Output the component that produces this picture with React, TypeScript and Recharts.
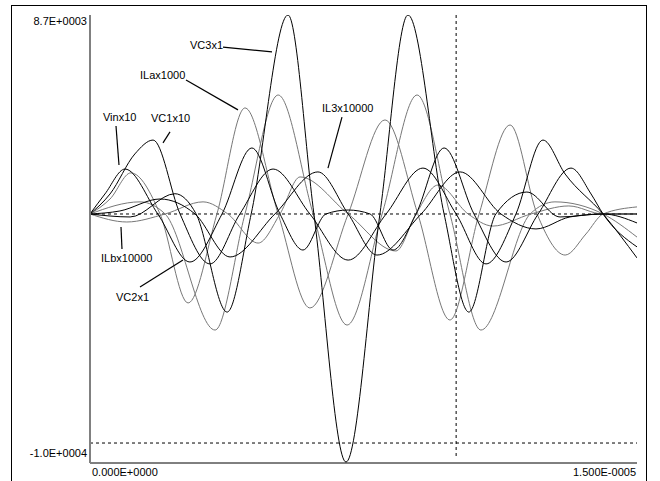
import React from 'react';
import { LineChart, Line, XAxis, YAxis, ReferenceLine, ReferenceDot } from 'recharts';

// time in microseconds (axis spans 0 .. 1.5E-5 s)
const vc3T = [0, 1.10, 2.33, 2.91, 3.76, 4.42, 5.43, 6.14, 7.02, 7.95, 8.72, 9.71, 10.39, 11.13, 11.98, 12.89, 14.07, 15];
const vc3V = [394, 270, 1240, 394, -3700, 394, 8700, 394, -9960, 394, 8700, 394, -3700, 394, 1310, 270, 394, 20];

const vc2T = [0, 1.37, 2.06, 3.43, 4.25, 5.16, 6.12, 7.05, 8.01, 8.97, 9.87, 10.72, 12.07, 12.75, 14.07, 15];
const vc2V = [394, 900, 394, -4450, 394, 5360, 394, -4240, 394, 5360, 394, -4450, 394, 900, 394, -570];

const vc1T = [0, 0.55, 1.23, 1.73, 2.47, 3.29, 4.11, 5.02, 6.03, 7.08, 8.12, 9.13, 10.04, 10.86, 11.68, 12.42, 13.03, 14.07, 15];
const vc1V = [394, 1230, 2900, 3480, 394, -1690, 394, 2270, 394, -1530, 394, 2310, 394, -1690, 394, 3480, 2060, 394, -1440];

const vinT = [0, 0.41, 0.96, 1.86, 2.74, 3.62, 4.44, 5.21, 5.84, 6.47, 7.08, 7.68, 8.31, 8.94, 9.71, 10.53, 11.41, 12.29, 13.19, 13.74, 14.07, 15];
const vinV = [394, 1230, 2270, 394, -1610, 394, 3150, 394, -1110, 394, 560, 394, -1110, 394, 3150, 394, -1610, 394, 2310, 1230, 394, -980];

const ilaT = [0, 0.55, 1.12, 1.92, 2.69, 3.48, 4.25, 5.16, 6.03, 7.08, 8.09, 8.99, 9.87, 10.67, 11.52, 12.26, 13.03, 13.60, 14.07, 15];
const ilaV = [394, 1020, 2110, 394, -3320, 394, 4820, 394, -3530, 394, 4320, 394, -4030, 394, 4110, 394, -1320, -440, 394, 690];

const ilbT = [0, 1.01, 2.06, 3.10, 3.78, 4.61, 5.21, 5.76, 7.08, 8.39, 8.94, 9.54, 10.37, 11.05, 12.09, 13.13, 14.07, 15];
const ilbV = [394, 60, 394, 900, 394, -820, 394, 1940, 394, -1150, 394, 1600, 394, -110, 394, 730, 394, 394];

const il3T = [0, 0.82, 1.92, 2.88, 3.84, 5.07, 6.25, 7.08, 7.87, 9.08, 10.15, 11.27, 12.23, 13.16, 14.07, 15];
const il3V = [394, 520, 1020, 394, -1400, 394, 2150, 394, -1320, 394, 2150, 394, -230, 270, 394, 394];

// axis
const xTicks = [0, 15];
const xTickLabels = ['0.000E+0000', '1.500E-0005'];
const yTicks = [-10000, 8700];
const yTickLabels = ['-1.0E+0004', '8.7E+0003'];

// cursors
const zeroLevel = 394;
const lowCursor = -9166;
const timeCursor = 10.04;

// annotations: text position and leader line (data units)
const labelNames = ['VC3x1', 'ILax1000', 'Vinx10', 'VC1x10', 'IL3x10000', 'ILbx10000', 'VC2x1'];
const labelT = [2.742, 1.371, 0.356, 1.673, 6.362, 0.302, 0.713];
const labelV = [7280, 6030, 4280, 4230, 4650, -1610, -3240];
const leaderT1 = [3.647, 2.633, 0.713, 2.194, 6.910, 0.850, 1.371];
const leaderV1 = [7360, 5990, 4070, 3820, 4440, -150, -2650];
const leaderT2 = [4.991, 4.058, 0.795, 2.002, 6.526, 0.877, 2.550];
const leaderV2 = [7160, 4740, 2440, 3360, 2310, -1070, -1530];

const zip = (ts: number[], vs: number[]) => ts.map((t, i) => ({ t, v: vs[i] }));

const GRAY = '#777777';
const FONT = '"Liberation Sans", Arial, sans-serif';

const series = [
  { name: 'VC2x1', data: zip(vc2T, vc2V), color: GRAY },
  { name: 'ILax1000', data: zip(ilaT, ilaV), color: GRAY },
  { name: 'ILbx10000', data: zip(ilbT, ilbV), color: GRAY },
  { name: 'Vinx10', data: zip(vinT, vinV), color: '#000000' },
  { name: 'VC1x10', data: zip(vc1T, vc1V), color: '#000000' },
  { name: 'IL3x10000', data: zip(il3T, il3V), color: '#000000' },
  { name: 'VC3x1', data: zip(vc3T, vc3V), color: '#000000' },
];

const YTick = (props: any) => {
  const { x, y, payload } = props;
  const idx = yTicks.indexOf(payload.value);
  const top = payload.value > 0;
  return (
    <text x={x - 3} y={top ? y + 10 : y - 6} textAnchor="end" fontSize={11} fontFamily={FONT} fill="#000">
      {yTickLabels[idx]}
    </text>
  );
};

const XTick = (props: any) => {
  const { x, y, payload } = props;
  const idx = xTicks.indexOf(payload.value);
  const first = idx === 0;
  return (
    <text x={first ? x + 2 : x - 1} y={y + 13} textAnchor={first ? 'start' : 'end'} fontSize={11} fontFamily={FONT} fill="#000">
      {xTickLabels[idx]}
    </text>
  );
};

export default function App() {
  return (
    <div style={{ position: 'absolute', left: 0, top: 0, width: 660, height: 481, overflow: 'hidden', background: '#fff' }}>
      <div style={{ position: 'absolute', left: 11, top: 5, width: 636, height: 520, border: '1px solid #000', boxSizing: 'border-box' }} />
      <div style={{ position: 'absolute', left: 0, top: 0 }}>
        <LineChart width={660} height={481} margin={{ top: 15, right: 23, bottom: 0, left: 10 }}>
          <XAxis
            dataKey="t"
            type="number"
            domain={[0, 15]}
            ticks={xTicks}
            allowDataOverflow
            axisLine={{ stroke: '#000', strokeWidth: 1 }}
            tickLine={false}
            tickSize={0}
            tickMargin={0}
            height={18}
            tick={<XTick />}
            interval={0}
          />
          <YAxis
            dataKey="v"
            type="number"
            domain={[-10000, 8700]}
            ticks={yTicks}
            allowDataOverflow
            axisLine={{ stroke: '#808080', strokeWidth: 2 }}
            tickLine={false}
            tickSize={0}
            tickMargin={0}
            width={80}
            tick={<YTick />}
            interval={0}
          />
          <ReferenceLine y={zeroLevel} stroke="#000" strokeDasharray="3 3" />
          <ReferenceLine y={lowCursor} stroke="#000" strokeDasharray="3 3" />
          <ReferenceLine
            segment={[{ x: timeCursor, y: 8700 }, { x: timeCursor, y: -9830 }]}
            stroke="#000"
            strokeDasharray="3 3"
          />
          {series.map((s) => (
            <Line
              key={s.name}
              data={s.data}
              dataKey="v"
              type="monotone"
              stroke={s.color}
              strokeWidth={1}
              dot={false}
              isAnimationActive={false}
            />
          ))}
          {labelNames.map((n, i) => (
            <ReferenceLine
              key={'l' + n}
              segment={[{ x: leaderT1[i], y: leaderV1[i] }, { x: leaderT2[i], y: leaderV2[i] }]}
              stroke="#000"
              strokeWidth={1.2}
            />
          ))}
          {labelNames.map((n, i) => (
            <ReferenceDot
              key={'t' + n}
              x={labelT[i]}
              y={labelV[i]}
              r={0}
              shape={(p: any) => (
                <text x={p.cx} y={p.cy} fontSize={11} fontFamily={FONT} fill="#000">
                  {n}
                </text>
              )}
            />
          ))}
        </LineChart>
      </div>
    </div>
  );
}
